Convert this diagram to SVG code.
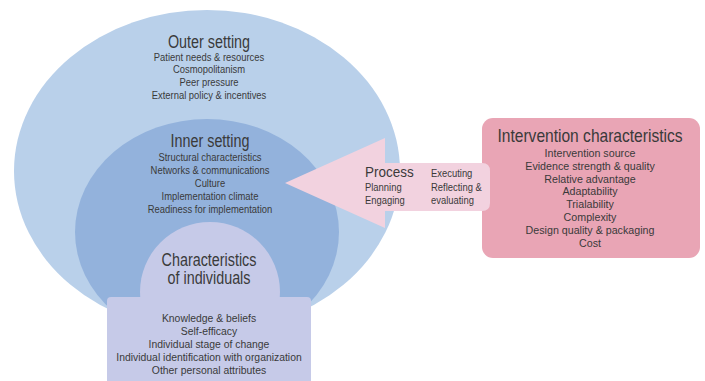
<svg xmlns="http://www.w3.org/2000/svg" width="705" height="381" viewBox="0 0 705 381">
<style>
text{font-family:"Liberation Sans",Arial,sans-serif;fill:#3a3a3a;text-anchor:middle}
.t{font-size:17.5px}
.i{font-size:11.5px}
.ps{text-anchor:start}
</style>
<rect width="705" height="381" fill="#ffffff"/>
<g id="outer-setting">
<ellipse cx="207" cy="171" rx="193" ry="161" fill="#b9d0ea"/>
</g>
<g id="inner-setting">
<ellipse cx="207" cy="232" rx="132" ry="113" fill="#93b2dc"/>
</g>
<g id="characteristics-of-individuals">
<circle cx="210" cy="292" r="70" fill="#c6cae8"/>
<rect x="107" y="297" width="204" height="90" rx="4" fill="#c6cae8"/>
</g>
<g id="intervention-characteristics">
<rect x="482" y="118" width="218" height="140" rx="11" fill="#e9a5b5"/>
</g>
<g id="connectors">
<path id="process-arrow" d="M285,183 L385,138 L385,163 L482,163 Q490,163 490,171 L490,203 Q490,211 482,211 L385,211 L385,228 Z" fill="#f2d2df"/>
</g>
<g id="labels-outer" transform="translate(209,0) scale(0.82,1)">
<text class="t" x="0" y="48">Outer setting</text>
<text class="i" x="0" y="61">Patient needs &amp; resources</text>
<text class="i" x="0" y="73">Cosmopolitanism</text>
<text class="i" x="0" y="86">Peer pressure</text>
<text class="i" x="0" y="99">External policy &amp; incentives</text>
</g>
<g id="labels-inner" transform="translate(210,0) scale(0.82,1)">
<text class="t" x="0" y="147.5">Inner setting</text>
<text class="i" x="0" y="161">Structural characteristics</text>
<text class="i" x="0" y="174">Networks &amp; communications</text>
<text class="i" x="0" y="187">Culture</text>
<text class="i" x="0" y="200">Implementation climate</text>
<text class="i" x="0" y="213">Readiness for implementation</text>
</g>
<g id="labels-individuals-title" transform="translate(209,0) scale(0.82,1)">
<text class="t" x="0" y="266">Characteristics</text>
<text class="t" x="0" y="284">of individuals</text>
</g>
<g id="labels-individuals" transform="translate(209,0) scale(0.905,1)">
<text class="i" x="0" y="322">Knowledge &amp; beliefs</text>
<text class="i" x="0" y="335">Self-efficacy</text>
<text class="i" x="0" y="348">Individual stage of change</text>
<text class="i" x="0" y="361">Individual identification with organization</text>
<text class="i" x="0" y="374">Other personal attributes</text>
</g>
<g id="labels-process-title" transform="translate(365,0) scale(0.9,1)">
<text class="ps" x="0" y="177.5" style="font-size:15px">Process</text>
</g>
<g id="labels-process" transform="translate(365,0) scale(0.82,1)">
<text class="i ps" x="0" y="191.5">Planning</text>
<text class="i ps" x="0" y="204.5">Engaging</text>
</g>
<g id="labels-process-2" transform="translate(431,0) scale(0.82,1)">
<text class="i ps" x="0" y="177.5">Executing</text>
<text class="i ps" x="0" y="191.5">Reflecting &amp;</text>
<text class="i ps" x="0" y="204.5">evaluating</text>
</g>
<g id="labels-intervention-title" transform="translate(590,0) scale(0.89,1)">
<text class="t" x="0" y="142">Intervention characteristics</text>
</g>
<g id="labels-intervention" transform="translate(590,0) scale(0.93,1)">
<text class="i" x="0" y="157">Intervention source</text>
<text class="i" x="0" y="169.8">Evidence strength &amp; quality</text>
<text class="i" x="0" y="182.6">Relative advantage</text>
<text class="i" x="0" y="195.4">Adaptability</text>
<text class="i" x="0" y="208.2">Trialability</text>
<text class="i" x="0" y="221">Complexity</text>
<text class="i" x="0" y="233.8">Design quality &amp; packaging</text>
<text class="i" x="0" y="246.6">Cost</text>
</g>
</svg>
